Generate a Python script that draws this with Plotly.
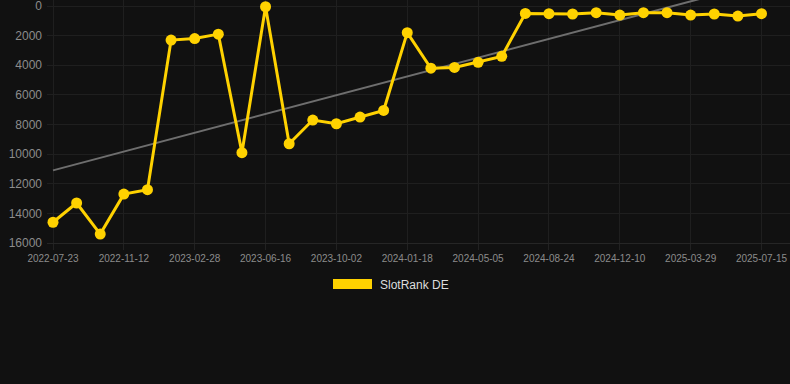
import numpy as np
import plotly.graph_objects as go

dates = [
    "2022-07-23", "2022-08-29", "2022-10-05", "2022-11-12", "2022-12-18", "2023-01-23",
    "2023-02-28", "2023-04-05", "2023-05-11", "2023-06-16", "2023-07-22", "2023-08-27",
    "2023-10-02", "2023-11-07", "2023-12-13", "2024-01-18", "2024-02-23", "2024-03-30",
    "2024-05-05", "2024-06-11", "2024-07-18", "2024-08-24", "2024-09-29", "2024-11-04",
    "2024-12-10", "2025-01-15", "2025-02-20", "2025-03-29", "2025-05-04", "2025-06-09",
    "2025-07-15",
]
rank_de = [
    14600, 13300, 15400, 12700, 12400, 2300, 2200, 1900, 9900, 50, 9300, 7700,
    7950, 7500, 7050, 1800, 4200, 4150, 3800, 3400, 500, 520, 540, 450,
    610, 450, 450, 610, 540, 680, 520,
]
tick_labels = [
    "2022-07-23", "2022-11-12", "2023-02-28", "2023-06-16", "2023-10-02", "2024-01-18",
    "2024-05-05", "2024-08-24", "2024-12-10", "2025-03-29", "2025-07-15",
]
y_ticks = [0, 2000, 4000, 6000, 8000, 10000, 12000, 14000, 16000]

idx = np.arange(len(rank_de))
slope, intercept = np.polyfit(idx, rank_de, 1)
trend = [intercept + slope * idx[0], intercept + slope * idx[-1]]

GOLD = "#FFD200"

fig = go.Figure()
fig.add_trace(go.Scatter(
    x=[dates[0], dates[-1]], y=trend, mode="lines",
    line=dict(color="#6e6e6e", width=2), showlegend=False, hoverinfo="skip",
))
fig.add_trace(go.Scatter(
    x=dates, y=rank_de, mode="lines+markers", name="SlotRank DE",
    line=dict(color=GOLD, width=3), marker=dict(color=GOLD, size=11),
    showlegend=False, cliponaxis=False,
))

W, H = 790, 384
L, R, T, B = 47, 0, 0, 141
px_per = (761.5 - 53) / 30.0
fig.update_layout(
    width=W, height=H,
    margin=dict(l=L, r=R, t=T, b=B, pad=0),
    paper_bgcolor="#111111", plot_bgcolor="#111111",
    font=dict(family="Liberation Sans, Arial, sans-serif", color="#999999"),
    xaxis=dict(
        type="category", categoryorder="array", categoryarray=dates,
        range=[-(53 - L) / px_per, 30 + (W - R - 761.5) / px_per],
        tickmode="array", tickvals=tick_labels, ticktext=tick_labels,
        showgrid=True, gridcolor="#1f1f1f", gridwidth=1,
        ticks="outside", ticklen=6, tickcolor="#222222",
        tickfont=dict(size=10, color="#8c8c8c"),
        showline=True, linecolor="#262626", linewidth=1,
        zeroline=False, tickangle=0, ticklabeloverflow="allow",
    ),
    yaxis=dict(
        range=[16000, -6 / (237 / 16000.0)],
        tickmode="array", tickvals=y_ticks, ticktext=[str(v) for v in y_ticks],
        showgrid=True, gridcolor="#1f1f1f", gridwidth=1,
        ticks="", tickfont=dict(size=12, color="#8c8c8c"),
        zeroline=False, showline=False, ticklabelstandoff=4,
        ticklabeloverflow="allow",
    ),
    shapes=[dict(
        type="rect", xref="paper", yref="paper",
        x0=(333 - L) / (W - L - R), x1=(372 - L) / (W - L - R),
        y0=(H - B - 279) / (H - T - B), y1=(H - B - 289) / (H - T - B),
        fillcolor=GOLD, line=dict(width=0),
    )],
    annotations=[dict(
        text="SlotRank DE", xref="paper", yref="paper",
        x=(378 - L) / (W - L - R), y=(H - B - 284.5) / (H - T - B),
        xanchor="left", yanchor="middle", showarrow=False,
        font=dict(size=12, color="#dddddd"),
    )],
)

fig.write_html(
    "out.html",
    config={"displayModeBar": False},
    post_script="document.body.style.margin='0';document.body.style.background='#111111';",
)
